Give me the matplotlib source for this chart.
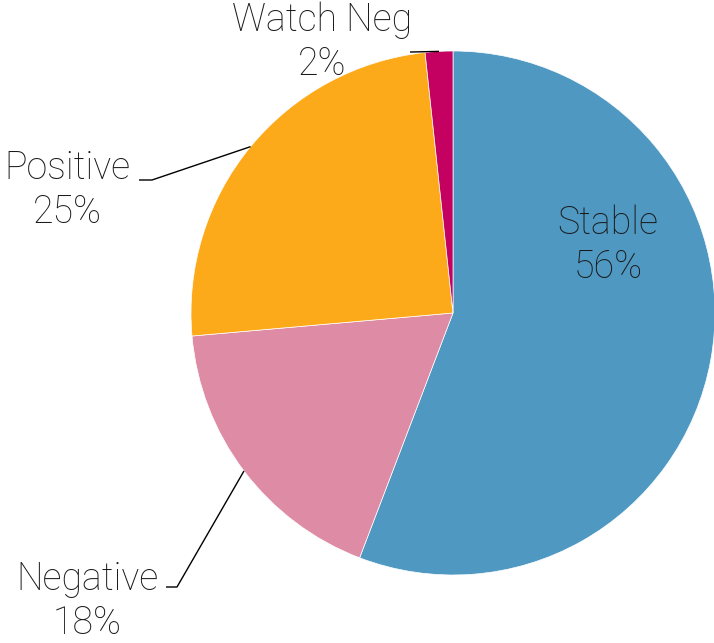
import matplotlib
matplotlib.use("Agg")
import matplotlib.pyplot as plt
import numpy as np
from matplotlib import font_manager

labels = ["Stable", "Negative", "Positive", "Watch Neg"]
values = [55.8, 17.8, 24.7, 1.7]
pct_text = ["56%", "18%", "25%", "2%"]
colors = ["#4F98C2", "#DE8BA5", "#FDAA1A", "#C40060"]

names = {f.name for f in font_manager.fontManager.ttflist}
fam = "Roboto" if "Roboto" in names else "DejaVu Sans"
plt.rcParams["font.family"] = [fam, "DejaVu Sans"]

W, H = 714, 643
fig = plt.figure(figsize=(W / 100, H / 100), dpi=100)
ax = fig.add_axes([0, 0, 1, 1])

cx, cy, R = 453, H - 313, 262
wedges, _ = ax.pie(values, colors=colors, startangle=90, counterclock=False,
                   center=(cx, cy), radius=R, frame=True,
                   wedgeprops=dict(linewidth=0.5, edgecolor="white"))
ax.set_xlim(0, W)
ax.set_ylim(0, H)
ax.set_aspect("equal")
ax.axis("off")

fs = 27
tkw = dict(fontsize=fs, fontweight="light", color="#1a1a1a", ha="center",
           va="center", linespacing=1.22)

# Stable: inside label
ax.text(608, H - 245, f"{labels[0]}\n{pct_text[0]}", **tkw)

# outside labels: (text center, elbow point, line end)
outside = {
    1: ((87, H - 601), (177, H - 587), (166, H - 587)),
    2: ((67, H - 190), (152, H - 180), (139, H - 180)),
    3: ((322, H - 42), (412, H - 52), (410, H - 52)),
}
for i, (tpos, elbow, end) in outside.items():
    w = wedges[i]
    mid = np.deg2rad((w.theta1 + w.theta2) / 2)
    sx, sy = cx + R * np.cos(mid), cy + R * np.sin(mid)
    ax.plot([sx, elbow[0], end[0]], [sy, elbow[1], end[1]],
            color="black", lw=1.0, solid_capstyle="butt")
    ax.text(tpos[0], tpos[1], f"{labels[i]}\n{pct_text[i]}", **tkw)

fig.savefig("out.png", dpi=100, facecolor="white")
